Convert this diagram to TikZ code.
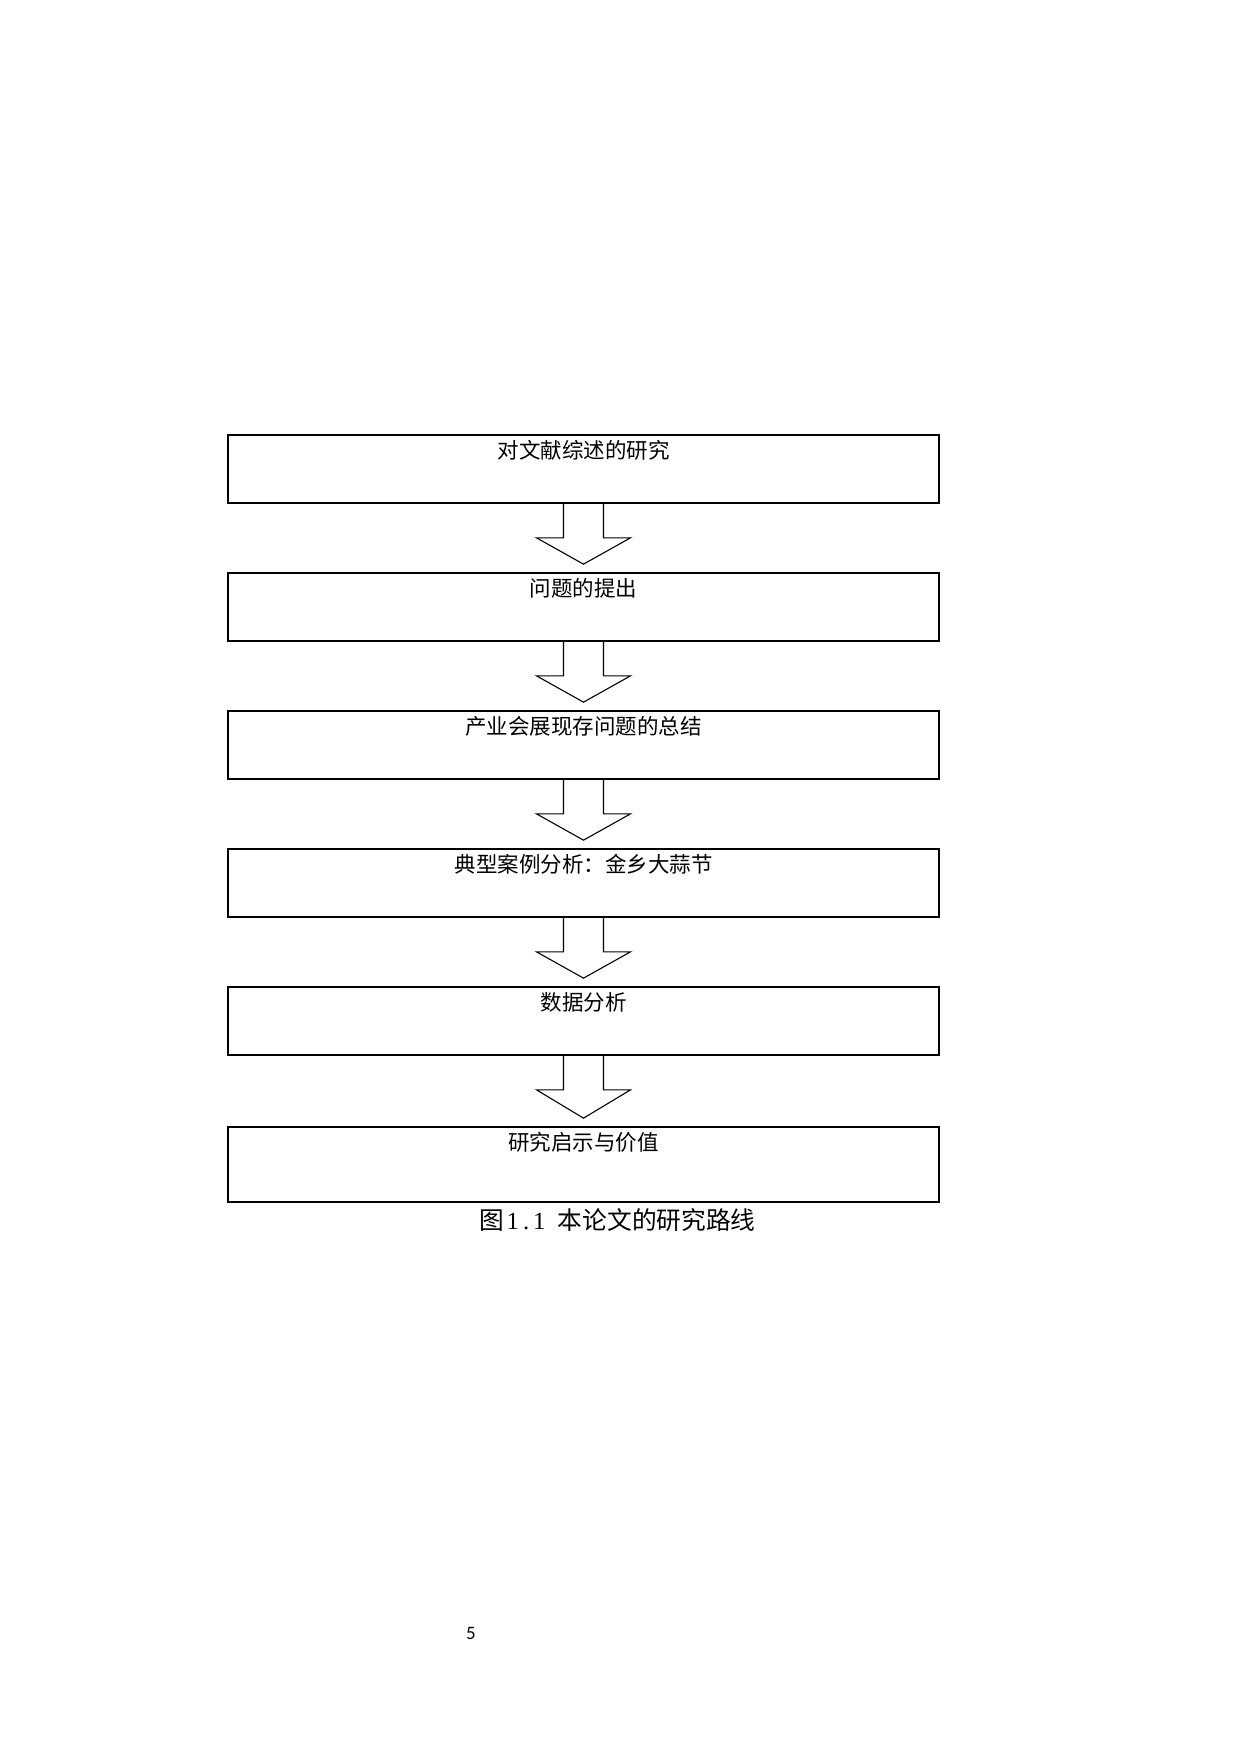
\documentclass[tikz,border=0pt]{standalone}
\usepackage{fontspec}
\newfontfamily\cjk{Noto Sans CJK SC}
\newfontfamily\numfont{Carlito}
\newfontfamily\serifnum{Liberation Serif}
\usetikzlibrary{calc}
\begin{document}
\begin{tikzpicture}[x=0.5pt,y=-0.5pt,
  stepbox/.style={draw, rectangle, line width=0.85pt, minimum width=355.5pt, minimum height=34pt, inner sep=0pt},
  lbl/.style={font=\cjk\fontsize{10.75pt}{12pt}\selectfont, inner sep=0pt},
  blockarrow/.style={draw, line width=0.55pt, line join=miter},
  captionstyle/.style={font=\cjk\fontsize{12.35pt}{14pt}\selectfont, inner sep=0pt},
  pagestyle/.style={font=\numfont\fontsize{9.5pt}{11pt}\selectfont, inner sep=0pt}]
\useasboundingbox (0,0) rectangle (1234,1748);
\fill[white] (0,0) rectangle (1234,1748);

\node[stepbox] (b1) at (583.5,469) {};
\node[stepbox] (b2) at (583.5,607) {};
\node[stepbox] (b3) at (583.5,745) {};
\node[stepbox] (b4) at (583.5,883) {};
\node[stepbox] (b5) at (583.5,1021) {};
\node[stepbox, minimum height=37.5pt] (b6) at (583.5,1164.5) {};

\node[lbl] (t1) at ($(b1.north)+(0,16)$) {对文献综述的研究};
\node[lbl] (t2) at ($(b2.north)+(0,16)$) {问题的提出};
\node[lbl] (t3) at ($(b3.north)+(0,16)$) {产业会展现存问题的总结};
\node[lbl] (t4) at ($(b4.north)+(0,16)$) {典型案例分析：金乡大蒜节};
\node[lbl] (t5) at ($(b5.north)+(0,16)$) {数据分析};
\node[lbl] (t6) at ($(b6.north)+(0,16)$) {研究启示与价值};

\foreach \a/\b in {b1/b2,b2/b3,b3/b4,b4/b5,b5/b6}{
  \draw[blockarrow] ($(\a.south)+(-20,0)$) -- ($(\a.south)+(-20,34)$)
    -- ($(\a.south)+(-47,34)$) -- ($(\b.north)+(0,-8)$)
    -- ($(\a.south)+(47,34)$) -- ($(\a.south)+(20,34)$)
    -- ($(\a.south)+(20,0)$);
}

\node[captionstyle] (cap) at (617.5,1220) {图\hspace{0.1em}{\serifnum 1\kern2pt.\kern2pt1}\hspace{0.5em}本论文的研究路线};
\node[pagestyle] (pg) at (471,1633) {5};
\end{tikzpicture}
\end{document}
